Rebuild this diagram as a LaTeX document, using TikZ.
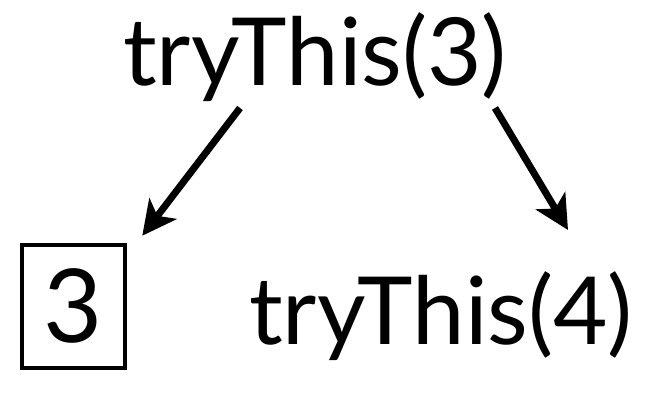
\documentclass[tikz,border=0pt]{standalone}
\usepackage{fontspec}
\setmainfont{Lato}
\usetikzlibrary{arrows.meta}
\tikzset{
  lbl/.style={inner sep=0pt, anchor=base, font=\fontsize{94}{94}\selectfont},
  arr/.style={line width=7pt, -{Stealth[length=34pt,width=34pt,inset=9pt]}},
  boxed/.style={draw, line width=4.5pt, minimum width=103pt, minimum height=123pt, inner sep=0pt}
}
\begin{document}
\begin{tikzpicture}[x=1pt,y=1pt]
\useasboundingbox (0,0) rectangle (646,398);
\node[lbl] (top) at (315,312) {tryThis(3)};
\node[boxed] (box) at (73.5,91.5) {};
\node[lbl, font=\fontsize{102}{102}\selectfont] (n3) at (73.5,55) {3};
\node[lbl] (bot) at (441,53) {tryThis(4)};
\draw[arr] ([xshift=-75pt,yshift=-22pt]top.base) -- ([xshift=15pt,yshift=7pt]box.north east);
\draw[arr] ([xshift=180pt,yshift=-22pt]top.base) -- ([xshift=127pt,yshift=115pt]bot.base);
\end{tikzpicture}
\end{document}
